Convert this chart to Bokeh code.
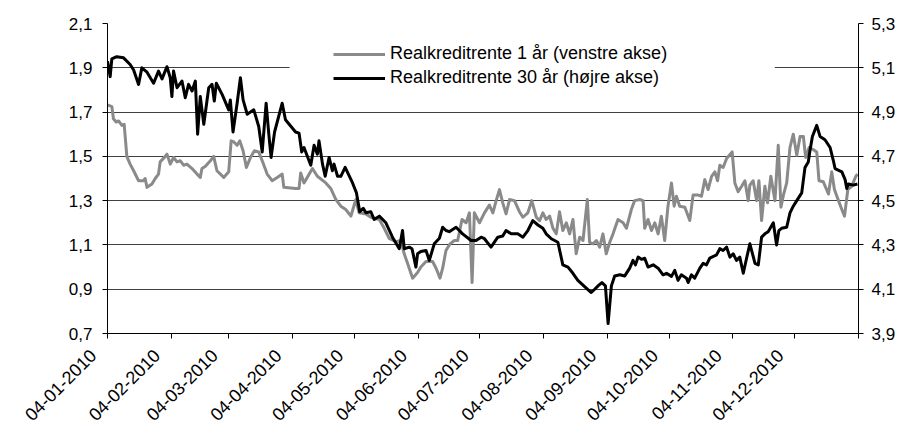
import math
import pandas as pd
from bokeh.plotting import figure
from bokeh.models import (LinearAxis, Range1d, FixedTicker, CustomJSTickFormatter,
                          Legend, LegendItem, BoxAnnotation, ColumnDataSource)
from bokeh.embed import file_html
from bokeh.resources import INLINE

# ---------------- data ----------------
start_date = "2010-01-04"
end_date = "2011-01-04"

# Realkreditrente 1 år (venstre akse): day offsets from 04-01-2010 and values
days_1y = [0, 2.1, 2.9, 4.2, 5.4, 7.0, 8.1, 9.4, 11.0, 12.7,
           15.1, 17.5, 18.3, 19.2, 21.6, 23.2, 24.8, 25.6, 28.1, 28.9,
           30.5, 32.1, 33.8, 35.4, 37.0, 38.6, 41.1, 43.5, 45.1, 45.9,
           47.6, 50.0, 51.6, 53.2, 56.5, 58.9, 60.1, 61.4, 63.0, 64.3,
           65.9, 67.5, 69.5, 71.4, 73.5, 75.2, 77.6, 80.0, 82.5, 84.9,
           85.7, 91.4,
           93.1, 93.9, 95.5, 99.6, 102.0, 106.1, 108.5, 111.0, 113.4, 115.8,
           118.3, 120.7, 122.3, 125.6, 128.0, 132.1, 134.5, 136.9, 140.2, 142.6,
           144.2, 145.9, 148.3, 150.7, 152.3, 154.8, 158.0, 159.7, 161.6, 162.9,
           164.5, 166.5, 168.6, 170.2, 172.3, 174.3, 175.9, 177.2, 178.3,
           180.8, 183.2, 185.6, 187.3, 188.9, 190.5, 192.1, 193.7, 195.4, 197.8,
           200.2, 201.9, 204.3, 206.2, 208.4, 210.0, 211.6, 213.2, 214.9, 216.5,
           218.1, 219.7, 221.3, 223.0, 224.6, 226.2, 227.8, 229.5, 231.1, 233.2,
           234.3, 236.0, 237.6, 239.2, 240.8, 242.4, 244.1, 245.7, 248.1, 250.6,
           252.2, 254.6, 256.2, 258.7, 260.3, 261.1, 262.7, 264.4, 266.0, 267.6,
           269.2,
           270.8, 272.4, 274.1, 275.4, 276.5, 278.1, 280.6, 283.0, 284.6, 287.1,
           288.7, 290.3, 291.9, 293.6, 295.2, 296.5, 297.6, 299.2, 300.9, 303.6,
           304.9, 306.5, 308.2, 309.8, 311.4, 312.2, 313.8, 315.5, 316.6, 317.9,
           319.5, 320.8, 322.4, 324.4, 326.0, 327.3, 328.5, 330.1, 331.7, 333.3,
           335.0, 336.6, 338.2, 339.3, 341.0, 343.1, 344.7, 345.8, 347.9, 350.4,
           352.0, 353.3, 354.9, 356.9, 358.2, 359.8, 361.7, 363.7, 364.5]
rate_1y = [1.733, 1.725, 1.67, 1.655, 1.66, 1.64, 1.645, 1.50, 1.465, 1.435,
           1.39, 1.39, 1.40, 1.36, 1.375, 1.40, 1.42, 1.475, 1.5, 1.51,
           1.465, 1.495, 1.475, 1.48, 1.46, 1.465, 1.445, 1.42, 1.405, 1.445,
           1.455, 1.48, 1.5, 1.435, 1.405, 1.43, 1.57, 1.565, 1.55, 1.57,
           1.525, 1.45, 1.495, 1.525, 1.52, 1.48, 1.42, 1.39, 1.405, 1.42,
           1.36, 1.355,
           1.355, 1.425, 1.38, 1.445, 1.41, 1.38, 1.355, 1.305, 1.275, 1.26,
           1.23, 1.305, 1.245, 1.24, 1.225, 1.215, 1.175, 1.13, 1.115, 1.12,
           1.06, 1.015, 0.95, 0.975, 1.0, 1.025, 1.025, 0.995, 0.95, 0.995,
           1.075, 1.105, 1.12, 1.12, 1.215, 1.2, 1.245, 0.93, 1.245,
           1.2, 1.245, 1.28, 1.245, 1.3, 1.35, 1.29, 1.24, 1.305, 1.3,
           1.25, 1.225, 1.245, 1.3, 1.225, 1.21, 1.245, 1.215, 1.23, 1.175,
           1.15, 1.25, 1.165, 1.2, 1.15, 1.215, 1.06, 1.135, 1.12, 1.305,
           1.112, 1.105, 1.12, 1.09, 1.15, 1.06, 1.112, 1.15, 1.215, 1.2,
           1.175, 1.26, 1.3, 1.305, 1.3, 1.175, 1.215, 1.165, 1.2, 1.15,
           1.23,
           1.12, 1.275, 1.38, 1.275, 1.32, 1.275, 1.27, 1.21, 1.325, 1.325,
           1.32, 1.395, 1.35, 1.41, 1.43, 1.39, 1.46, 1.45, 1.49, 1.52,
           1.38, 1.34, 1.365, 1.39, 1.3, 1.37, 1.39, 1.3, 1.39, 1.21,
           1.365, 1.29, 1.41, 1.3, 1.55, 1.27, 1.325, 1.38, 1.54, 1.6,
           1.505, 1.59, 1.59, 1.495, 1.54, 1.53, 1.52, 1.39, 1.385, 1.33,
           1.43, 1.35, 1.31, 1.26, 1.23, 1.35, 1.365, 1.41, 1.42]

# Realkreditrente 30 år (højre akse)
days_30y = [0, 1.3, 2.1, 4.5, 7.8, 11.0, 12.7, 15.1, 16.7, 19.2,
            22.4, 24.8, 26.5, 28.9, 30.5, 31.3, 32.1, 33.8, 36.2, 37.8,
            39.4, 41.1, 42.7, 43.8, 45.1, 46.8, 49.2, 50.8, 51.9, 52.9,
            55.7, 58.9, 59.7, 61.0, 63.0, 64.6, 65.9, 67.9, 71.1, 73.5,
            75.2, 77.1, 78.4, 79.5, 81.2, 84.9, 86.5, 91.4,
            93.1, 94.4, 95.5, 98.8, 100.4, 102.0, 102.8, 104.5, 105.8, 107.7,
            109.3, 110.1, 111.8, 113.4, 115.5, 119.1, 121.0, 122.6, 124.3, 125.6,
            128.0, 129.6, 132.1, 135.3, 138.5, 141.8, 143.4, 144.2, 146.7, 148.0,
            149.9, 150.7, 152.3, 154.8, 156.4, 158.8, 161.3, 162.9, 164.5, 166.1,
            169.4, 172.6, 176.7, 179.1, 181.6,
            183.2, 186.4, 189.7, 192.1, 193.7, 196.2, 199.4, 201.9, 204.3,
            206.7, 209.2, 211.6, 213.2, 215.7, 218.9, 221.3, 223.8, 226.2, 228.6,
            232.7, 235.1, 236.8, 238.4, 240.3, 242.0, 243.3, 244.9, 246.5, 249.0,
            251.4, 253.8, 255.4, 256.6, 257.9, 259.5, 261.1, 262.7, 265.2, 267.6,
            270.0, 271.7,
            274.1, 275.7, 277.3, 278.9, 281.4, 282.2, 283.8, 285.4, 287.9, 289.5,
            291.1, 292.7, 296.0, 297.6, 299.2, 300.9, 302.5, 304.1, 305.7, 307.3,
            309.0, 310.6, 312.2, 314.7, 316.3, 317.9, 319.5, 321.1, 323.6, 325.2,
            326.3, 327.6, 330.1, 331.7, 333.3, 335.0, 337.4, 339.0, 340.6, 341.4,
            342.6, 344.7, 346.3, 348.7, 351.2, 352.8, 353.6, 356.9, 358.5, 359.3,
            360.1, 362.5, 364.5]
rate_30y = [5.13, 5.06, 5.14, 5.15, 5.145, 5.115, 5.09, 5.025, 5.10, 5.08,
            5.03, 5.085, 5.05, 5.105, 5.055, 4.97, 5.085, 5.01, 5.04, 4.965,
            5.025, 4.995, 5.04, 4.80, 4.97, 4.845, 5.01, 5.025, 4.95, 5.03,
            4.98, 4.91, 4.955, 4.81, 4.94, 5.055, 4.955, 4.89, 4.91, 4.835,
            4.72, 4.94, 4.80, 4.695, 4.81, 4.94, 4.865, 4.81,
            4.805, 4.72, 4.74, 4.66, 4.75, 4.71, 4.77, 4.665, 4.61, 4.695,
            4.635, 4.665, 4.61, 4.61, 4.65, 4.58, 4.535, 4.45, 4.465, 4.445,
            4.45, 4.415, 4.43, 4.40, 4.335, 4.283, 4.365, 4.283, 4.29, 4.283,
            4.20, 4.26, 4.27, 4.275, 4.23, 4.305, 4.33, 4.38, 4.365, 4.36,
            4.38, 4.35, 4.32, 4.32, 4.335,
            4.328, 4.29, 4.335, 4.34, 4.365, 4.35, 4.35, 4.335, 4.365,
            4.41, 4.39, 4.375, 4.35, 4.328, 4.312, 4.21, 4.20, 4.172, 4.14,
            4.105, 4.085, 4.10, 4.115, 4.13, 4.115, 3.945, 4.115, 4.16, 4.165,
            4.16, 4.195, 4.23, 4.21, 4.245, 4.235, 4.24, 4.20, 4.21, 4.195,
            4.165, 4.172,
            4.158, 4.185, 4.14, 4.165, 4.15, 4.13, 4.165, 4.15, 4.195, 4.217,
            4.21, 4.24, 4.255, 4.283, 4.275, 4.29, 4.245, 4.26, 4.23, 4.245,
            4.172, 4.24, 4.305, 4.217, 4.21, 4.335, 4.35, 4.36, 4.40, 4.30,
            4.365, 4.375, 4.38, 4.445, 4.475, 4.50, 4.535, 4.65, 4.675, 4.725,
            4.79, 4.84, 4.79, 4.775, 4.74, 4.68, 4.645, 4.63, 4.595, 4.555,
            4.575, 4.57, 4.575]

tick_dates = ["2010-01-04", "2010-02-04", "2010-03-04", "2010-04-04",
              "2010-05-04", "2010-06-04", "2010-07-04", "2010-08-04",
              "2010-09-04", "2010-10-04", "2010-11-04", "2010-12-04"]
tick_labels = ["04-01-2010", "04-02-2010", "04-03-2010", "04-04-2010",
               "04-05-2010", "04-06-2010", "04-07-2010", "04-08-2010",
               "04-09-2010", "04-10-2010", "04-11-2010", "04-12-2010"]
left_ticks = [0.7, 0.9, 1.1, 1.3, 1.5, 1.7, 1.9, 2.1]
right_ticks = [3.9, 4.1, 4.3, 4.5, 4.7, 4.9, 5.1, 5.3]

label_1y = "Realkreditrente 1 år (venstre akse)"
label_30y = "Realkreditrente 30 år (højre akse)"

# ---------------- build ----------------
t0 = pd.Timestamp(start_date)
x_1y = [t0 + pd.Timedelta(days=d) for d in days_1y]
x_30y = [t0 + pd.Timedelta(days=d) for d in days_30y]

def to_ms(ts):
    return (pd.Timestamp(ts) - pd.Timestamp("1970-01-01")).total_seconds() * 1000.0

FONT = "Liberation Sans"

p = figure(frame_width=751, frame_height=310, x_axis_type="datetime",
           x_range=Range1d(pd.Timestamp(start_date), pd.Timestamp(end_date)),
           y_range=Range1d(left_ticks[0], left_ticks[-1]),
           output_backend="svg", toolbar_location=None,
           min_border_left=107, min_border_right=42,
           min_border_top=23, min_border_bottom=95)
p.extra_y_ranges = {"right": Range1d(right_ticks[0], right_ticks[-1])}
p.outline_line_color = None
p.background_fill_color = "white"
p.border_fill_color = "white"

comma_code = "return tick.toFixed(1).replace('.', ',');"

# left axis
ya = p.yaxis[0]
ya.ticker = FixedTicker(ticks=left_ticks)
ya.formatter = CustomJSTickFormatter(code=comma_code)

# right axis
yr = LinearAxis(y_range_name="right", ticker=FixedTicker(ticks=right_ticks),
                formatter=CustomJSTickFormatter(code=comma_code))
p.add_layout(yr, "right")

# x axis: ticks on the 4th of every month, rotated labels
x_tick_ms = [to_ms(d) for d in tick_dates]
xa = p.xaxis[0]
xa.ticker = FixedTicker(ticks=x_tick_ms + [to_ms(end_date)])
xa.formatter = CustomJSTickFormatter(
    args=dict(tpos=x_tick_ms, tlabels=tick_labels),
    code="""
let best = -1, bd = 1e300;
for (let i = 0; i < tpos.length; i++) {
  const d = Math.abs(tpos[i] - tick);
  if (d < bd) { bd = d; best = i; }
}
if (best < 0 || bd > 43200000) return '';
return tlabels[best] + '\\u00a0\\u00a0\\u00a0\\u00a0';
""")
xa.major_label_orientation = math.pi / 4

for ax in [ya, yr, xa]:
    ax.axis_line_color = "black"
    ax.axis_line_width = 1
    ax.major_tick_line_color = "black"
    ax.major_tick_in = 0
    ax.major_tick_out = 5
    ax.minor_tick_line_color = None
    ax.major_label_text_font = FONT
    ax.major_label_text_font_size = "17px"
    ax.major_label_text_color = "black"
ya.major_label_standoff = 10
yr.major_label_standoff = 8
xa.major_label_text_font_size = "18px"
xa.major_label_standoff = 0

p.xgrid.grid_line_color = None
p.ygrid.ticker = FixedTicker(ticks=left_ticks)
p.ygrid.grid_line_color = "#404040"
p.ygrid.grid_line_width = 1

# white patch behind the legend (hides the gridline there)
mask = BoxAnnotation(left=to_ms(t0 + pd.Timedelta(days=88.5)),
                     right=to_ms(t0 + pd.Timedelta(days=324.3)),
                     bottom=1.86, top=1.94, fill_color="white", fill_alpha=1.0,
                     line_alpha=0, level="underlay")
p.add_layout(mask)

src1 = ColumnDataSource(dict(x=x_1y, y=rate_1y))
src30 = ColumnDataSource(dict(x=x_30y, y=rate_30y))
r1 = p.line("x", "y", source=src1, line_color="#8a8a8a", line_width=3,
            line_join="round")
r30 = p.line("x", "y", source=src30, line_color="black", line_width=3,
             line_join="round", y_range_name="right")

legend = Legend(items=[LegendItem(label=label_1y, renderers=[r1]),
                       LegendItem(label=label_30y, renderers=[r30])],
                location=(220, 239), orientation="vertical",
                background_fill_alpha=0, border_line_alpha=0,
                label_text_font=FONT, label_text_font_size="18px",
                label_text_color="black",
                glyph_width=52, glyph_height=20, label_height=20,
                label_standoff=5, spacing=3, padding=6, margin=0)
p.add_layout(legend)

open("out.html", "w").write(file_html(p, INLINE))
